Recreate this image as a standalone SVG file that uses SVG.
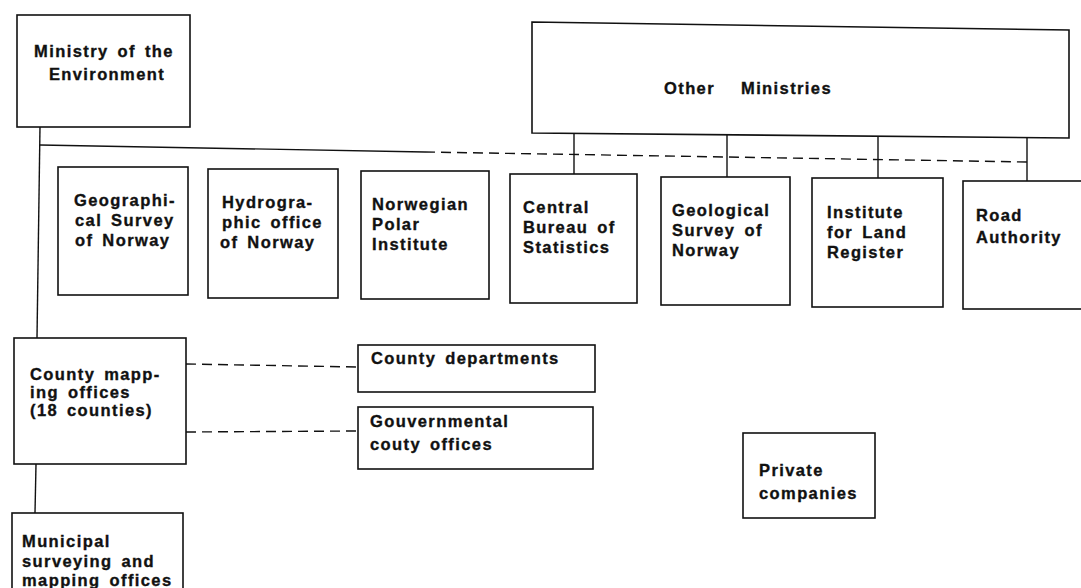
<svg xmlns="http://www.w3.org/2000/svg" width="1081" height="588" viewBox="0 0 1081 588">
<style>
.box{fill:#fff;stroke:#111;stroke-width:1.6}
.t{font-family:"Liberation Sans",Arial,sans-serif;font-weight:bold;font-size:16.5px;letter-spacing:1.4px;word-spacing:3px;fill:#111;stroke:#111;stroke-width:0.35}
.c{text-anchor:middle}
.ln{fill:none;stroke:#111;stroke-width:1.4}
.dash{fill:none;stroke:#111;stroke-width:1.4;stroke-dasharray:10 6}
</style>
<rect width="1081" height="588" fill="#fff"/>
<g id="connectors">
<polyline class="ln" points="40,126 37,338"/>
<polyline class="ln" points="40,145 425,152"/>
<polyline class="dash" points="425,152 1027,162"/>
<line class="ln" x1="574" y1="134" x2="574" y2="174"/>
<line class="ln" x1="727" y1="135" x2="727" y2="177"/>
<line class="ln" x1="878" y1="136" x2="878" y2="178"/>
<line class="ln" x1="1027" y1="138" x2="1027" y2="181"/>
<line class="dash" x1="186" y1="364" x2="358" y2="367"/>
<line class="dash" x1="186" y1="432" x2="358" y2="431"/>
<line class="ln" x1="36" y1="464" x2="35" y2="513"/>
</g>
<g id="ministry-environment">
<rect class="box" x="17" y="15" width="173" height="112"/>
<text class="t c" x="104" y="57">Ministry of the</text>
<text class="t c" x="107" y="80">Environment</text>
</g>
<g id="other-ministries">
<polygon class="box" points="532,22 1069,30 1069,138 532,133"/>
<text class="t" x="664" y="94" style="word-spacing:20px">Other Ministries</text>
</g>
<g id="geographical-survey">
<rect class="box" x="58" y="167" width="130" height="128"/>
<text class="t" x="74" y="206">Geographi-</text>
<text class="t" x="75" y="226">cal Survey</text>
<text class="t" x="75" y="246">of Norway</text>
</g>
<g id="hydrographic-office">
<rect class="box" x="208" y="169" width="130" height="129"/>
<text class="t" x="222" y="208">Hydrogra-</text>
<text class="t" x="222" y="228">phic office</text>
<text class="t" x="220" y="248">of Norway</text>
</g>
<g id="polar-institute">
<rect class="box" x="361" y="171" width="128" height="128"/>
<text class="t" x="372" y="210">Norwegian</text>
<text class="t" x="372" y="230">Polar</text>
<text class="t" x="372" y="250">Institute</text>
</g>
<g id="central-bureau">
<rect class="box" x="510" y="174" width="127" height="129"/>
<text class="t" x="523" y="213">Central</text>
<text class="t" x="523" y="233">Bureau of</text>
<text class="t" x="523" y="253">Statistics</text>
</g>
<g id="geological-survey">
<rect class="box" x="661" y="177" width="129" height="128"/>
<text class="t" x="672" y="216">Geological</text>
<text class="t" x="672" y="236">Survey of</text>
<text class="t" x="672" y="256">Norway</text>
</g>
<g id="land-register">
<rect class="box" x="812" y="178" width="131" height="129"/>
<text class="t" x="827" y="218">Institute</text>
<text class="t" x="827" y="238">for Land</text>
<text class="t" x="827" y="258">Register</text>
</g>
<g id="road-authority">
<rect class="box" x="963" y="181" width="130" height="128"/>
<text class="t" x="976" y="221">Road</text>
<text class="t" x="976" y="243">Authority</text>
</g>
<g id="county-mapping">
<rect class="box" x="14" y="338" width="172" height="126"/>
<text class="t" x="30" y="380">County mapp-</text>
<text class="t" x="30" y="398">ing offices</text>
<text class="t" x="30" y="416">(18 counties)</text>
</g>
<g id="county-departments">
<rect class="box" x="358" y="345" width="237" height="47"/>
<text class="t" x="371" y="364">County departments</text>
</g>
<g id="governmental-county-offices">
<rect class="box" x="358" y="407" width="235" height="62"/>
<text class="t" x="370" y="427">Gouvernmental</text>
<text class="t" x="370" y="450">couty offices</text>
</g>
<g id="private-companies">
<rect class="box" x="743" y="433" width="132" height="85"/>
<text class="t" x="759" y="476">Private</text>
<text class="t" x="759" y="499">companies</text>
</g>
<g id="municipal-offices">
<rect class="box" x="12" y="513" width="171" height="90"/>
<text class="t" x="22" y="547">Municipal</text>
<text class="t" x="22" y="567">surveying and</text>
<text class="t" x="22" y="586">mapping offices</text>
</g>
</svg>
